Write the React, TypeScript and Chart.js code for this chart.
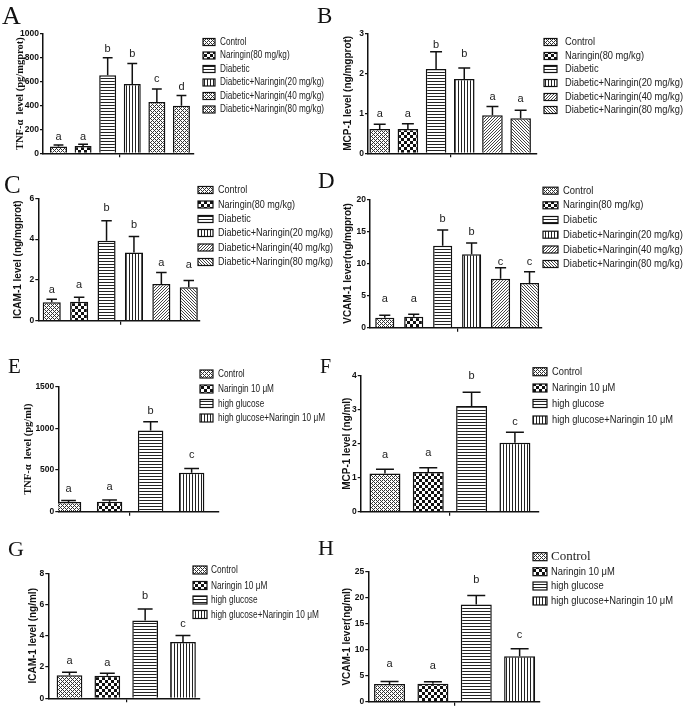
import React, { useEffect, useRef } from "react";
import { Chart, registerables } from "chart.js";
Chart.register(...registerables);

// ---------- data ----------
const groupsTissue = [
  "Control",
  "Naringin(80 mg/kg)",
  "Diabetic",
  "Diabetic+Naringin(20 mg/kg)",
  "Diabetic+Naringin(40 mg/kg)",
  "Diabetic+Naringin(80 mg/kg)",
];
const groupsCell = ["Control", "Naringin 10 \u03bcM", "high glucose", "high glucose+Naringin 10 \u03bcM"];

const tnfTissue = [58, 62, 655, 580, 430, 398];
const tnfTissueErr = [70, 75, 800, 752, 540, 485];
const tnfTissueLetters = ["a", "a", "b", "b", "c", "d"];
const tnfTissueLetterAt = [111, 111, 847, 806, 597, 533];

const mcpTissue = [0.61, 0.61, 2.11, 1.86, 0.95, 0.875];
const mcpTissueErr = [0.725, 0.74, 2.54, 2.13, 1.17, 1.075];
const mcpTissueLetters = ["a", "a", "b", "b", "a", "a"];
const mcpTissueLetterAt = [0.9, 0.9, 2.64, 2.4, 1.33, 1.29];

const icamTissue = [0.9, 0.93, 3.92, 3.34, 1.8, 1.64];
const icamTissueErr = [1.05, 1.15, 4.9, 4.13, 2.36, 1.97];
const icamTissueLetters = ["a", "a", "b", "b", "a", "a"];
const icamTissueLetterAt = [1.38, 1.62, 5.36, 4.54, 2.66, 2.57];

const vcamTissue = [1.56, 1.7, 12.78, 11.43, 7.64, 6.96];
const vcamTissueErr = [1.92, 2.08, 15.2, 13.2, 9.35, 8.73];
const vcamTissueLetters = ["a", "a", "b", "b", "c", "c"];
const vcamTissueLetterAt = [4.05, 4.05, 16.5, 14.4, 9.77, 9.77];

const tnfCell = [115, 120, 975, 468];
const tnfCellErr = [135, 140, 1078, 518];
const tnfCellLetters = ["a", "a", "b", "c"];
const tnfCellLetterAt = [240, 262, 1172, 640];

const mcpCell = [1.12, 1.17, 3.11, 2.03];
const mcpCellErr = [1.25, 1.29, 3.51, 2.34];
const mcpCellLetters = ["a", "a", "b", "c"];
const mcpCellLetterAt = [1.57, 1.65, 3.9, 2.55];

const icamCell = [1.47, 1.45, 4.98, 3.6];
const icamCellErr = [1.66, 1.6, 5.72, 4.02];
const icamCellLetters = ["a", "a", "b", "c"];
const icamCellLetterAt = [2.17, 2.09, 6.35, 4.56];

const vcamCell = [3.4, 3.45, 18.7, 8.75];
const vcamCellErr = [3.9, 3.85, 20.4, 10.2];
const vcamCellLetters = ["a", "a", "b", "c"];
const vcamCellLetterAt = [6.7, 6.3, 22.8, 12.3];

// ---------- styling / layout ----------
const SANS = "'Liberation Sans', Arial, Helvetica, sans-serif";
const NARROW = "'Liberation Sans Narrow', 'Arial Narrow', 'Liberation Sans', Arial, sans-serif";
const SERIF = "'Liberation Serif', 'Times New Roman', Times, serif";
const INK = "#111";

type Layout = {
  cl: number; ct: number; cw: number; ch: number;
  axisX: number; right: number; top: number; bottom: number;
  titleX: number; xMin: number; xMax: number; barFrac: number;
};
type LegendLayout = {
  swatchX: number; swatchW: number; swatchH: number; textX: number;
  rows: number[]; target: number; size: number; serifFirst?: boolean;
};
type PanelCfg = {
  values: number[]; err: number[]; letters: string[]; letterAt: number[];
  labels: string[]; patterns: string[]; yMax: number; yStep: number;
  title: string; titleSerif: boolean; layout: Layout; legend: LegendLayout;
};

const P6 = ["dots", "checker", "hlines", "vlines", "diagR", "diagL"];
const P6A = ["dots", "checker", "hlines", "vlines", "dots", "dots"];
const P4 = ["dots", "checker", "hlines", "vlines"];

const panels: PanelCfg[] = [
  {
    values: tnfTissue, err: tnfTissueErr, letters: tnfTissueLetters, letterAt: tnfTissueLetterAt,
    labels: groupsTissue, patterns: P6A, yMax: 1000, yStep: 200,
    title: "TNF-\u03b1  level (pg/mgprot)", titleSerif: true,
    layout: { cl: 0, ct: 0, cw: 340, ch: 165, axisX: 43, right: 193.5, top: 34, bottom: 153.3, titleX: 20.7, xMin: -0.63, xMax: 5.49, barFrac: 0.69 },
    legend: { swatchX: 203, swatchW: 12, swatchH: 7, textX: 220, rows: [42, 55.5, 69, 82.5, 96, 109.5], target: 104, size: 10.5 },
  },
  {
    values: mcpTissue, err: mcpTissueErr, letters: mcpTissueLetters, letterAt: mcpTissueLetterAt,
    labels: groupsTissue, patterns: P6, yMax: 3, yStep: 1,
    title: "MCP-1 level (ng/mgprot)", titleSerif: false,
    layout: { cl: 335, ct: 0, cw: 351, ch: 165, axisX: 368, right: 536.7, top: 33.3, bottom: 153.3, titleX: 348, xMin: -0.415, xMax: 5.57, barFrac: 0.73 },
    legend: { swatchX: 544, swatchW: 13, swatchH: 7, textX: 565, rows: [42, 56, 69, 83, 97, 110], target: 118, size: 11 },
  },
  {
    values: icamTissue, err: icamTissueErr, letters: icamTissueLetters, letterAt: icamTissueLetterAt,
    labels: groupsTissue, patterns: P6, yMax: 6, yStep: 2,
    title: "ICAM-1 level (ng/mgprot)", titleSerif: false,
    layout: { cl: 0, ct: 165, cw: 340, ch: 170, axisX: 38.3, right: 200, top: 198.3, bottom: 320.7, titleX: 18, xMin: -0.49, xMax: 5.41, barFrac: 0.66 },
    legend: { swatchX: 198, swatchW: 15, swatchH: 7, textX: 218, rows: [190, 204.5, 219, 233, 247.5, 262], target: 115, size: 11 },
  },
  {
    values: vcamTissue, err: vcamTissueErr, letters: vcamTissueLetters, letterAt: vcamTissueLetterAt,
    labels: groupsTissue, patterns: P6, yMax: 20, yStep: 5,
    title: "VCAM-1 lever(ng/mgprot)", titleSerif: false,
    layout: { cl: 335, ct: 165, cw: 351, ch: 170, axisX: 370, right: 541.7, top: 199.3, bottom: 327.7, titleX: 348, xMin: -0.51, xMax: 5.42, barFrac: 0.66 },
    legend: { swatchX: 543, swatchW: 15, swatchH: 7, textX: 563, rows: [190.7, 205.3, 220, 234.7, 249.5, 264], target: 120, size: 11 },
  },
  {
    values: tnfCell, err: tnfCellErr, letters: tnfCellLetters, letterAt: tnfCellLetterAt,
    labels: groupsCell, patterns: P4, yMax: 1500, yStep: 500,
    title: "TNF-\u03b1  level (pg/ml)", titleSerif: true,
    layout: { cl: 0, ct: 335, cw: 340, ch: 182, axisX: 58.3, right: 218.3, top: 386.7, bottom: 511.7, titleX: 28, xMin: -0.25, xMax: 3.65, barFrac: 0.62 },
    legend: { swatchX: 200, swatchW: 13, swatchH: 8, textX: 218, rows: [374, 389, 403.5, 418], target: 107, size: 11 },
  },
  {
    values: mcpCell, err: mcpCellErr, letters: mcpCellLetters, letterAt: mcpCellLetterAt,
    labels: groupsCell, patterns: P4, yMax: 4, yStep: 1,
    title: "MCP-1 level (ng/ml)", titleSerif: false,
    layout: { cl: 335, ct: 335, cw: 351, ch: 182, axisX: 360.7, right: 538.3, top: 375.7, bottom: 511.7, titleX: 347, xMin: -0.56, xMax: 3.54, barFrac: 0.715 },
    legend: { swatchX: 533, swatchW: 14, swatchH: 8, textX: 552, rows: [371.7, 388, 403.5, 420], target: 121, size: 11.5 },
  },
  {
    values: icamCell, err: icamCellErr, letters: icamCellLetters, letterAt: icamCellLetterAt,
    labels: groupsCell, patterns: P4, yMax: 8, yStep: 2,
    title: "ICAM-1 level (ng/ml)", titleSerif: false,
    layout: { cl: 0, ct: 515, cw: 340, ch: 192, axisX: 48.3, right: 200, top: 573.3, bottom: 698.3, titleX: 33, xMin: -0.56, xMax: 3.45, barFrac: 0.68 },
    legend: { swatchX: 193, swatchW: 14, swatchH: 8, textX: 211, rows: [570, 585.5, 600, 614.5], target: 108, size: 11 },
  },
  {
    values: vcamCell, err: vcamCellErr, letters: vcamCellLetters, letterAt: vcamCellLetterAt,
    labels: groupsCell, patterns: P4, yMax: 25, yStep: 5,
    title: "VCAM-1 lever(ng/ml)", titleSerif: false,
    layout: { cl: 335, ct: 515, cw: 351, ch: 192, axisX: 368.3, right: 540, top: 571.7, bottom: 701.7, titleX: 347, xMin: -0.49, xMax: 3.47, barFrac: 0.715 },
    legend: { swatchX: 533, swatchW: 14, swatchH: 8, textX: 551, rows: [556.7, 571.7, 586, 601], target: 122, size: 11.5, serifFirst: true },
  },
];

const panelTags = [
  { t: "A", x: 2, base: 25, size: 26 },
  { t: "B", x: 317, base: 23.5, size: 23 },
  { t: "C", x: 4, base: 193, size: 25 },
  { t: "D", x: 318, base: 188, size: 23 },
  { t: "E", x: 8, base: 373.5, size: 21 },
  { t: "F", x: 320, base: 373, size: 20 },
  { t: "G", x: 8, base: 556, size: 22 },
  { t: "H", x: 318, base: 555, size: 22 },
];

// ---------- patterns ----------
function makePattern(ctx: CanvasRenderingContext2D, kind: string): CanvasPattern | string {
  const tile = document.createElement("canvas");
  let w = 4, h = 4;
  if (kind === "checker") { w = 6; h = 6; }
  if (kind === "hlines" || kind === "vlines" || kind === "diagR" || kind === "diagL") { w = 3; h = 3; }
  tile.width = w; tile.height = h;
  const t = tile.getContext("2d")!;
  t.fillStyle = "#fff";
  t.fillRect(0, 0, w, h);
  for (let x = 0; x < w; x++) {
    for (let y = 0; y < h; y++) {
      let on = false;
      let col = "#222";
      if (kind === "dots") { on = (x + y) % 4 === 0 || ((x - y) + 8) % 4 === 0; col = "#333"; }
      else if (kind === "checker") { on = (Math.floor(x / 3) + Math.floor(y / 3)) % 2 === 0; col = "#111"; }
      else if (kind === "hlines") { on = y === 0; col = "#222"; }
      else if (kind === "vlines") { on = x === 0; col = "#222"; }
      else if (kind === "diagR") { on = (x + y) % 3 === 0; col = "#444"; }
      else if (kind === "diagL") { on = ((x - y) + 6) % 3 === 0; col = "#444"; }
      if (on) { t.fillStyle = col; t.fillRect(x, y, 1, 1); }
    }
  }
  return ctx.createPattern(tile, "repeat") || "#999";
}

// ---------- chart builder ----------
function buildChart(canvas: HTMLCanvasElement, p: PanelCfg): Chart {
  const L = p.layout;
  const titleSize = p.titleSerif ? 10.5 : 10;
  const lh = titleSize * 1.2;
  const padLeft = L.titleX - L.cl - lh / 2;
  const yW = L.axisX - L.cl - padLeft;
  const xH = 4;
  const padTop = L.top - L.ct;
  const padBottom = L.ct + L.ch - L.bottom - xH;
  const padRight = L.cl + L.cw - L.right;
  const ctx = canvas.getContext("2d")!;
  const pats = p.patterns.map((k) => makePattern(ctx, k));
  const n = p.values.length;

  const errPlugin = {
    id: "errbars",
    afterDatasetsDraw(chart: any) {
      const c = chart.ctx;
      const ys = chart.scales.y;
      const meta = chart.getDatasetMeta(0);
      c.save();
      c.strokeStyle = INK;
      c.lineWidth = 1.5;
      meta.data.forEach((el: any, i: number) => {
        const yv = el.y;
        const ye = ys.getPixelForValue(p.err[i]);
        const cw = el.width * 0.58;
        c.beginPath();
        c.moveTo(el.x, yv);
        c.lineTo(el.x, ye);
        c.moveTo(el.x - cw / 2, ye);
        c.lineTo(el.x + cw / 2, ye);
        c.stroke();
      });
      c.fillStyle = "#222";
      c.font = `11px ${SANS}`;
      c.textAlign = "center";
      c.textBaseline = "alphabetic";
      meta.data.forEach((el: any, i: number) => {
        c.fillText(p.letters[i], el.x, ys.getPixelForValue(p.letterAt[i]));
      });
      c.restore();
    },
  };

  const legendPlugin = {
    id: "customLegend",
    afterDraw(chart: any) {
      const c = chart.ctx;
      const G = p.legend;
      c.save();
      c.font = `${G.size}px ${SANS}`;
      let longest = 0;
      p.labels.forEach((s) => { longest = Math.max(longest, c.measureText(s).width); });
      const sx = G.target / longest;
      p.labels.forEach((s, i) => {
        const y = G.rows[i] - L.ct;
        const x0 = G.swatchX - L.cl;
        c.fillStyle = pats[i] as any;
        c.fillRect(x0, y - G.swatchH / 2, G.swatchW, G.swatchH);
        c.strokeStyle = INK;
        c.lineWidth = 1.2;
        c.strokeRect(x0, y - G.swatchH / 2, G.swatchW, G.swatchH);
        c.fillStyle = "#222";
        c.textBaseline = "middle";
        c.textAlign = "left";
        c.save();
        c.translate(G.textX - L.cl, y);
        if (G.serifFirst && i === 0) {
          c.font = `13px ${SERIF}`;
        } else {
          c.font = `${G.size}px ${SANS}`;
          c.scale(sx, 1);
        }
        c.fillText(s, 0, 0);
        c.restore();
      });
      c.restore();
    },
  };

  return new Chart(canvas, {
    type: "bar",
    data: {
      datasets: [
        {
          data: p.values.map((v, i) => ({ x: i, y: v })),
          backgroundColor: pats as any,
          borderColor: INK,
          borderWidth: 1.5,
          borderSkipped: "start",
          barPercentage: L.barFrac,
          categoryPercentage: 1,
        },
      ],
    },
    options: {
      responsive: false,
      maintainAspectRatio: false,
      animation: false,
      events: [],
      layout: { padding: { left: padLeft, right: padRight, top: padTop, bottom: padBottom } },
      plugins: { legend: { display: false }, tooltip: { enabled: false } },
      scales: {
        x: {
          type: "linear",
          min: L.xMin,
          max: L.xMax,
          bounds: "data",
          offset: false,
          z: 1,
          afterBuildTicks: (s: any) => { s.ticks = [{ value: (n - 1) / 2 }]; },
          afterFit: (s: any) => { s.height = xH; },
          ticks: { display: false },
          grid: { offset: false, drawOnChartArea: false, drawTicks: true, tickLength: 4, color: INK, lineWidth: 1.2 },
          border: { display: true, color: INK, width: 1.5 },
        },
        y: {
          type: "linear",
          min: 0,
          max: p.yMax,
          z: 1,
          afterFit: (s: any) => { s.width = yW; },
          ticks: {
            stepSize: p.yStep,
            padding: 1,
            color: INK,
            font: { family: NARROW, size: 8.5, weight: "bold", lineHeight: 1 },
            callback: (v: any) => String(v),
          },
          grid: { drawOnChartArea: false, drawTicks: true, tickLength: 3, color: INK, lineWidth: 1.2 },
          border: { display: true, color: INK, width: 1.5 },
          title: {
            display: true,
            text: p.title,
            color: INK,
            padding: 0,
            font: { family: p.titleSerif ? SERIF : SANS, size: titleSize, weight: "bold" },
          },
        },
      },
    } as any,
    plugins: [errPlugin, legendPlugin],
  });
}

function Panel({ p }: { p: PanelCfg }) {
  const ref = useRef<HTMLCanvasElement>(null);
  useEffect(() => {
    const chart = buildChart(ref.current!, p);
    return () => chart.destroy();
  }, [p]);
  const L = p.layout;
  return (
    <canvas
      ref={ref}
      width={L.cw}
      height={L.ch}
      style={{ position: "absolute", left: L.cl, top: L.ct, width: L.cw, height: L.ch }}
    />
  );
}

export default function App() {
  return (
    <div style={{ position: "absolute", left: 0, top: 0, width: 686, height: 707, background: "#fff", overflow: "hidden" }}>
      {panels.map((p, i) => (
        <Panel key={i} p={p} />
      ))}
      {panelTags.map((g) => (
        <div
          key={g.t}
          style={{
            position: "absolute",
            left: g.x,
            top: g.base - 0.8375 * g.size,
            fontFamily: SERIF,
            fontSize: g.size,
            lineHeight: `${g.size}px`,
            color: "#111",
            whiteSpace: "nowrap",
          }}
        >
          {g.t}
        </div>
      ))}
    </div>
  );
}
